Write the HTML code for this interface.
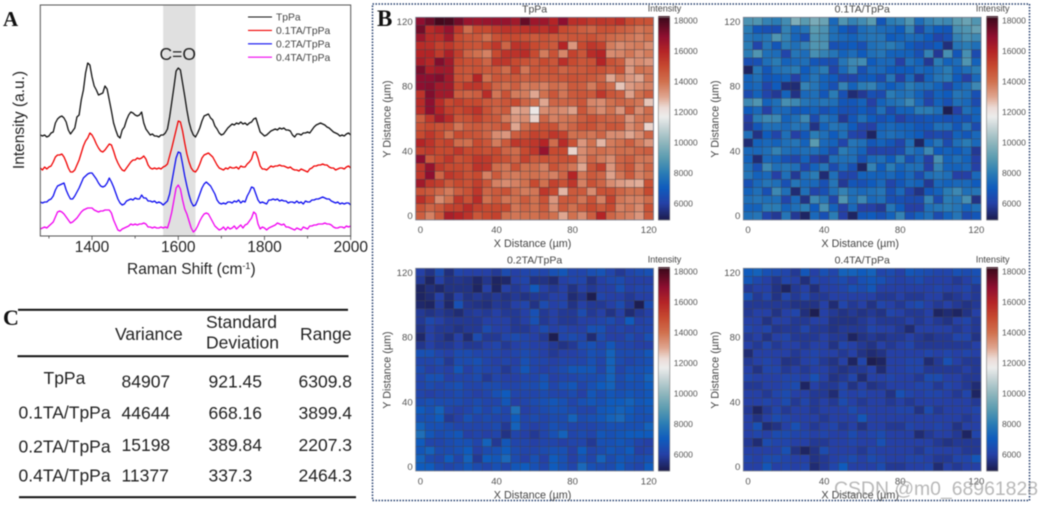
<!DOCTYPE html>
<html lang="en">
<head>
<meta charset="utf-8">
<title>Raman spectra and intensity maps</title>
<style>
html,body{margin:0;padding:0;background:#fff;}
body{width:1043px;height:506px;overflow:hidden;}
svg{display:block;filter:blur(0.5px);}
text{font-family:"Liberation Sans",sans-serif;}
</style>
</head>
<body>
<svg id="figure" xmlns="http://www.w3.org/2000/svg" width="1043" height="506" viewBox="0 0 1043 506">
  <rect x="0" y="0" width="1043" height="506" fill="#ffffff"/>

  <g id="spectra-panel"></g>
  <text x="3" y="26" style="font-family:'Liberation Serif',serif;font-weight:bold;font-size:21px" fill="#111">A</text>

  <rect x="372.5" y="4" width="657" height="496.5" fill="none" stroke="#1f3a6a" stroke-width="1.5" stroke-dasharray="1.5 1.5"/>
  <text x="377" y="26" style="font-family:'Liberation Serif',serif;font-weight:bold;font-size:23px" fill="#111">B</text>
  <g id="heatmaps"></g>

  <g font-size="17.5" fill="#222">
    <text x="3" y="325" style="font-family:'Liberation Serif',serif;font-weight:bold;font-size:22px" fill="#111">C</text>
    <rect x="18" y="308.8" width="330" height="2" fill="#111"/>
    <rect x="17.5" y="355.2" width="331" height="2" fill="#111"/>
    <rect x="19" y="496.2" width="337" height="2" fill="#111"/>
    <text x="115" y="340">Variance</text>
    <text x="206" y="328">Standard</text>
    <text x="206" y="348.5">Deviation</text>
    <text x="300" y="340">Range</text>
    <text x="43.5" y="384">TpPa</text>
    <text x="121.5" y="387.7">84907</text>
    <text x="208.5" y="387.7">921.45</text>
    <text x="298.5" y="387.7">6309.8</text>
    <text x="18.5" y="418.3">0.1TA/TpPa</text>
    <text x="121.5" y="419">44644</text>
    <text x="208.5" y="419">668.16</text>
    <text x="298.5" y="419">3899.4</text>
    <text x="18.5" y="452.7">0.2TA/TpPa</text>
    <text x="121.5" y="451">15198</text>
    <text x="208.5" y="451">389.84</text>
    <text x="298.5" y="451">2207.3</text>
    <text x="18.5" y="481.7">0.4TA/TpPa</text>
    <text x="121.5" y="481.7">11377</text>
    <text x="208.5" y="481.7">337.3</text>
    <text x="298.5" y="481.7">2464.3</text>
  </g>

  <text x="834" y="495" font-size="19.4" fill="#9a9a9a" fill-opacity="0.7">CSDN @m0_68961828</text>
</svg>

<script>
/* ---------- Panel A data: Raman spectra, a.u. above plot floor ---------- */
const ramanStart = 1280;
const ramanStep = 5;
const ramanTicksMajor = [1400, 1600, 1800, 2000];
const ramanTicksMinor = [1300, 1500, 1700, 1900];
const seriesNames = ['TpPa', '0.1TA/TpPa', '0.2TA/TpPa', '0.4TA/TpPa'];
const carbonylBand = [1565, 1640];

const spectrumTpPa = [
101,100,101,99,100,103,104,113,117,119,120,118,114,106,102,105,108,119,121,136,
146,163,173,171,159,150,146,141,142,143,150,147,136,125,113,106,100,98,106,109,
116,121,124,123,121,120,121,124,113,107,104,101,102,100,100,99,101,101,103,107,
119,134,149,165,168,166,153,140,126,114,106,101,99,103,108,115,120,121,122,118,
116,110,107,103,101,102,105,108,110,112,111,113,112,114,112,113,111,113,114,117,
118,111,104,102,100,101,103,105,106,107,106,108,107,108,106,106,105,101,99,102,
102,101,103,103,104,103,106,109,111,112,113,112,111,109,108,106,104,103,102,100,
101,100,102,103,101];
const spectrum01TA = [
68,66,69,67,69,70,74,79,81,81,82,79,74,68,64,64,66,71,76,83,
90,95,98,103,101,97,92,88,85,84,86,89,92,91,85,78,73,69,66,65,
68,71,74,76,76,78,77,78,80,77,71,68,67,68,67,68,67,69,70,72,
80,88,97,106,115,114,105,93,82,74,68,65,64,67,72,78,81,82,83,81,
79,75,71,68,67,66,68,67,69,68,68,69,67,70,69,69,72,74,77,84,
84,78,70,67,67,66,68,70,69,70,70,71,70,70,69,68,69,67,66,66,
65,67,66,65,64,67,68,70,70,71,71,72,71,71,69,68,68,66,67,68,
68,67,69,70,68];
const spectrum02TA = [
34,33,34,34,36,37,40,46,50,51,52,53,46,41,37,37,40,44,48,53,
58,60,62,63,63,60,57,53,50,49,50,53,58,54,49,43,37,33,31,32,
35,36,37,36,38,37,37,41,38,38,35,35,34,35,33,34,33,31,33,35,
42,54,66,78,84,83,72,60,50,41,34,30,31,36,42,48,52,54,52,50,
46,42,36,33,32,33,32,34,34,33,35,34,36,33,35,34,40,44,49,48,
42,36,33,34,33,32,36,36,37,36,37,35,36,35,35,33,34,34,33,35,
33,34,32,35,34,34,36,36,37,37,38,39,38,37,37,35,34,33,34,32,
33,32,33,33,31];
const spectrum04TA = [
7,8,9,8,10,12,14,19,24,25,24,22,19,16,13,14,16,18,21,24,
26,27,28,28,28,26,25,24,25,25,26,26,26,23,16,11,6,5,7,8,
9,10,12,11,12,11,12,12,13,12,9,9,8,9,8,8,9,8,9,8,
15,24,36,48,51,47,36,27,22,15,8,4,6,10,15,19,22,23,22,18,
14,10,8,6,7,9,6,9,7,8,10,7,9,11,8,11,12,15,18,24,
22,12,7,9,8,6,8,9,10,11,13,12,11,12,9,9,8,7,6,8,
7,6,9,8,7,10,10,11,11,12,12,12,13,12,12,11,9,8,8,9,
9,8,10,9,10];

/* ---------- Panel B data: intensity maps, hundreds of counts, top row = y 120 ---------- */
const mapTitles = ['TpPa', '0.1TA/TpPa', '0.2TA/TpPa', '0.4TA/TpPa'];
const mapAxisTicks = [0, 40, 80, 120];
const colorbarTicks = [6000, 8000, 10000, 12000, 14000, 16000, 18000];

const mapTpPa = [
[170,175,181,180,174,167,166,167,168,168,165,176,166,166,160,170,157,157,154,155,154,157,150,148,148],
[174,158,162,168,155,141,150,150,154,156,155,156,158,156,160,150,148,145,143,148,148,145,143,139,141],
[166,158,157,165,150,147,146,140,148,150,150,148,146,148,146,146,147,147,148,145,142,140,139,137,140],
[158,157,152,155,150,148,147,150,155,143,156,155,150,148,146,160,133,150,155,152,138,135,137,138,135],
[160,160,154,162,153,143,140,137,150,156,156,158,150,138,148,136,152,147,158,160,135,136,139,135,138],
[163,159,172,165,150,148,148,143,155,155,150,148,146,150,147,157,150,147,148,160,148,145,133,135,133],
[173,162,165,165,148,147,148,146,146,141,152,139,147,146,148,143,146,146,148,148,145,148,132,140,139],
[170,170,172,165,148,146,160,140,147,146,146,144,146,145,146,147,148,147,146,143,130,138,133,130,139],
[170,171,165,165,150,155,155,150,143,140,145,138,139,137,141,139,146,145,138,146,141,126,132,135,137],
[156,172,165,165,145,143,145,158,139,148,138,138,130,140,147,139,146,147,146,155,147,145,131,140,145],
[158,170,158,150,153,150,150,146,145,147,150,143,141,130,143,143,144,147,136,135,140,143,141,139,126],
[157,170,160,153,150,153,156,148,143,146,130,132,119,135,137,135,131,147,139,135,140,133,146,135,141],
[145,155,165,158,147,148,152,147,146,138,133,135,124,143,137,139,140,145,148,145,143,143,133,139,140],
[148,150,148,148,139,145,146,143,145,148,130,141,146,148,148,139,143,148,148,143,147,146,135,139,124],
[150,155,150,140,150,148,147,143,135,133,145,148,152,150,155,152,140,141,139,143,135,135,130,135,143],
[160,156,150,152,141,140,150,147,138,146,155,153,155,160,141,158,148,133,140,128,138,140,145,138,133],
[152,154,150,150,155,150,150,148,150,143,141,150,155,168,150,150,124,135,139,141,139,141,140,143,145],
[170,146,150,155,148,150,155,154,150,148,143,152,146,148,147,148,148,135,143,138,135,143,145,139,139],
[155,168,154,150,150,148,156,155,141,139,148,140,141,137,148,143,139,130,147,153,133,143,147,137,143],
[155,170,143,155,152,148,150,137,146,139,138,140,140,139,137,143,160,139,146,143,131,139,146,137,140],
[165,155,153,146,150,148,153,147,137,135,137,140,150,140,152,148,155,137,148,143,135,132,130,129,148],
[148,146,142,138,145,148,155,143,146,148,141,138,139,155,150,128,146,146,135,148,148,143,140,140,150],
[157,150,135,140,155,148,158,140,146,139,140,146,140,148,133,146,146,139,148,137,152,139,137,137,141],
[148,143,146,152,152,158,152,150,150,150,139,143,140,146,135,146,140,146,150,146,150,137,139,135,148],
[145,137,146,163,160,156,147,150,152,140,139,140,140,143,140,130,140,135,145,160,143,139,137,133,146]
];
const map01TA = [
[87,88,82,80,85,97,90,96,93,74,88,82,85,90,68,80,82,88,75,82,85,84,90,93,88],
[80,68,66,65,82,74,78,90,87,76,70,65,75,78,75,74,70,82,63,75,70,68,86,88,92],
[78,76,78,88,82,73,65,88,86,76,74,72,76,78,78,70,72,75,74,70,62,66,82,86,84],
[80,62,78,68,80,76,82,88,87,66,68,70,66,76,78,80,76,70,66,66,70,55,78,80,76],
[80,88,76,75,62,78,75,86,82,78,72,75,70,76,78,72,72,72,66,82,58,86,68,86,64],
[65,66,76,80,72,74,76,68,66,65,78,84,85,70,74,74,60,76,72,58,80,72,75,88,72],
[52,78,68,76,78,80,70,76,80,62,74,82,66,74,74,70,70,70,74,72,76,80,72,76,80],
[72,76,68,70,72,60,72,78,72,70,62,62,68,70,64,78,60,74,58,72,78,80,70,60,74],
[72,74,62,70,55,54,82,78,72,66,82,72,80,82,74,70,74,80,76,76,72,62,72,76,84],
[64,72,62,58,72,56,74,76,68,80,66,54,58,66,64,80,76,78,72,64,72,70,78,76,66],
[84,88,72,76,86,84,78,76,78,76,68,68,72,60,72,76,78,84,74,62,72,66,76,74,64],
[70,74,60,74,74,68,70,72,66,70,66,66,70,66,76,64,72,72,80,80,76,50,60,76,72],
[60,80,84,84,72,76,84,64,78,74,58,68,76,70,66,70,60,66,66,68,68,66,68,66,72],
[58,68,76,76,74,78,76,56,72,78,76,70,62,60,72,74,72,72,68,68,76,76,68,78,64],
[76,56,70,62,76,60,68,80,76,70,76,62,60,52,74,76,74,72,70,62,64,62,72,68,74],
[54,72,74,72,76,78,72,90,74,72,62,78,76,68,72,68,62,76,52,72,78,64,76,80,74],
[74,74,76,82,76,74,76,76,72,64,80,76,72,60,62,62,64,78,74,84,70,72,70,74,58],
[72,54,74,72,66,62,72,60,58,76,76,76,66,74,76,70,80,66,74,60,86,72,76,72,60],
[76,66,84,76,78,76,62,72,78,64,74,66,52,82,70,80,72,76,76,60,82,72,72,74,60],
[78,72,74,60,76,58,76,80,54,76,62,62,72,72,72,74,70,74,64,76,78,76,60,60,74],
[66,74,78,76,66,78,74,74,66,78,58,68,66,70,74,62,68,74,72,58,74,72,74,74,70],
[72,76,66,84,76,54,76,62,66,76,82,76,74,76,78,66,74,62,56,68,72,80,84,76,78],
[76,78,76,76,62,74,56,84,78,62,88,76,84,74,76,66,66,64,64,82,64,80,78,86,56],
[72,72,80,80,72,76,80,70,86,72,60,74,60,60,58,78,70,60,60,76,78,80,78,72,76],
[76,78,62,58,78,58,52,74,66,80,60,52,68,70,66,72,82,66,72,76,64,72,78,64,68]
];
const map02TA = [
[60,56,64,55,62,60,60,60,58,64,60,62,63,62,66,68,62,62,65,67,62,58,62,64,66],
[58,52,60,56,57,56,53,57,52,53,60,62,56,56,54,60,62,62,56,60,63,64,60,60,60],
[52,55,53,56,56,56,52,60,52,60,58,60,69,60,58,60,56,60,58,60,60,66,60,62,62],
[52,54,60,54,60,56,58,56,58,56,58,56,58,58,60,60,54,57,50,62,60,60,58,60,60],
[53,52,59,53,66,57,56,55,58,57,60,62,56,64,60,62,56,60,58,58,60,64,58,50,64],
[58,56,58,56,54,58,59,58,60,58,58,60,66,58,60,58,58,64,58,60,56,60,54,58,60],
[58,63,60,58,58,58,58,60,60,60,58,60,66,58,60,58,58,60,60,62,64,60,70,60,62],
[56,60,58,58,56,58,58,64,60,60,58,58,60,64,60,62,60,60,66,66,60,62,60,62,62],
[53,60,58,55,60,54,64,58,58,62,64,62,60,58,50,62,64,62,54,64,60,60,64,60,66],
[57,60,58,58,60,58,58,60,62,58,60,62,60,60,58,56,58,64,66,62,68,62,62,60,60],
[66,66,62,60,64,64,62,62,62,60,62,64,62,60,58,60,60,62,66,64,72,64,64,64,68],
[62,62,64,58,64,64,66,62,60,62,60,66,62,62,60,62,62,62,66,62,72,64,62,64,66],
[64,60,62,60,68,60,64,62,62,58,62,68,62,60,62,64,68,68,68,62,72,62,66,66,68],
[62,66,66,60,62,62,64,58,62,60,60,62,62,66,60,62,62,64,64,66,72,64,68,66,72],
[62,64,62,64,66,62,62,64,64,62,62,64,64,68,62,66,68,62,66,70,72,64,66,66,70],
[62,60,62,62,64,62,60,62,66,70,62,62,62,64,62,62,64,60,68,64,68,66,68,66,68],
[64,66,64,64,64,62,64,62,62,68,60,62,64,66,68,66,62,66,68,66,70,70,72,68,70],
[70,66,72,62,60,62,66,62,66,62,76,60,62,64,66,66,64,62,62,68,70,72,70,66,68],
[66,66,70,58,60,66,62,64,62,62,70,62,64,62,64,64,72,64,66,68,72,74,68,66,66],
[72,66,66,64,62,62,62,62,64,58,72,62,60,62,66,64,62,62,62,64,66,66,66,66,72],
[76,68,64,66,68,60,62,60,62,56,62,60,58,62,66,72,62,64,62,68,66,68,70,70,70],
[70,62,62,64,66,66,62,72,58,68,62,62,60,62,62,60,62,62,58,66,66,68,66,62,60],
[68,72,64,64,66,70,60,64,66,70,64,62,62,64,66,66,60,70,62,64,68,66,70,60,62],
[72,64,62,70,62,72,58,70,68,74,64,60,66,60,70,66,60,66,62,72,64,68,66,64,66],
[70,70,64,62,64,68,64,62,66,62,68,70,66,62,70,66,62,74,66,64,64,70,64,62,70]
];
const map04TA = [
[70,72,66,64,62,58,68,60,66,62,72,72,70,72,62,64,60,68,66,64,62,62,66,64,66],
[68,63,60,57,62,60,55,62,60,62,64,60,66,68,66,62,60,62,64,60,60,60,58,60,64],
[58,60,60,56,52,58,60,55,60,60,62,66,64,68,60,60,60,60,60,60,62,60,60,62,58],
[66,58,62,56,62,58,62,58,58,60,60,60,60,60,58,58,60,58,58,60,60,56,58,60,58],
[58,58,58,58,58,56,56,56,60,54,62,58,60,56,62,60,58,62,64,60,58,60,58,56,58],
[58,60,60,56,60,62,55,50,60,58,56,58,56,58,56,62,60,58,58,60,52,54,52,56,60],
[60,60,56,60,60,58,58,60,60,56,56,56,58,60,58,58,58,60,58,60,58,56,60,62,58],
[62,60,62,57,58,58,62,58,58,56,58,58,58,62,60,60,58,54,60,60,60,60,58,60,58],
[58,60,56,60,62,58,58,58,60,58,58,52,56,58,56,58,58,60,58,56,58,58,62,62,56],
[60,58,62,58,60,60,58,60,60,56,62,60,58,56,60,58,60,62,58,58,58,58,58,58,60],
[54,60,60,60,60,58,60,62,60,60,58,60,56,54,56,60,60,60,60,62,60,62,60,62,60],
[58,60,62,60,56,57,60,62,58,56,60,52,62,50,52,60,60,62,62,54,58,66,60,58,58],
[60,56,62,62,58,60,58,60,60,58,56,58,58,60,54,60,60,62,62,58,58,58,58,60,58],
[62,60,60,60,62,62,60,66,60,56,58,62,54,60,60,62,60,60,58,64,64,60,60,58,58],
[58,58,60,60,62,64,52,60,58,58,62,56,60,56,58,60,60,60,62,62,58,62,60,58,54],
[60,60,58,62,64,60,60,58,58,54,62,60,62,60,60,56,66,62,60,62,62,60,58,62,52],
[60,60,62,60,64,58,62,58,60,58,64,60,58,60,60,58,60,58,60,60,60,60,60,60,58],
[58,52,58,62,58,60,60,58,60,60,60,64,60,60,60,60,62,62,56,64,58,60,60,60,62],
[60,56,60,64,62,60,60,60,58,60,60,60,68,60,60,60,60,60,60,60,60,60,60,58,60],
[60,66,54,56,60,66,60,58,60,62,58,60,56,60,60,58,58,62,60,60,62,60,56,60,60],
[60,62,60,64,64,62,62,60,62,60,60,64,60,62,64,60,60,60,54,58,60,60,58,52,62],
[58,54,64,62,62,60,60,58,58,60,60,62,60,60,66,60,60,60,60,60,58,56,58,58,58],
[60,60,60,60,66,56,52,56,64,60,60,60,58,62,60,60,60,60,58,62,60,60,60,58,58],
[62,60,64,64,62,60,60,56,58,60,62,64,60,64,62,60,60,62,62,60,58,58,62,62,68],
[60,60,68,60,62,60,62,54,58,62,70,60,60,60,64,58,58,60,60,62,54,60,58,60,60]
];

const NS = 'http://www.w3.org/2000/svg';
function make(tag, attrs, parent, text) {
  const el = document.createElementNS(NS, tag);
  Object.keys(attrs).forEach(function (k) { el.setAttribute(k, attrs[k]); });
  if (text !== undefined) el.textContent = text;
  parent.appendChild(el);
  return el;
}
function slug(s) { return s.toLowerCase().replace(/[^a-z0-9]+/g, '-'); }

/* ---------- Panel A ---------- */
(function () {
  const root = document.getElementById('spectra-panel');
  const left = 40.3, right = 350.7, top = 5, bottom = 236;
  const xA = function (v) { return left + (v - 1280) / (2000 - 1280) * (right - left); };
  const yA = function (v) { return bottom - v; };
  const lineColors = ['#111111', '#f00000', '#0c0cf0', '#f000f0'];
  const allSeries = [spectrumTpPa, spectrum01TA, spectrum02TA, spectrum04TA];

  const band = make('rect', {x: xA(carbonylBand[0]), y: top, width: xA(carbonylBand[1]) - xA(carbonylBand[0]), height: bottom - top, fill: '#e0e0e0'}, root);
  
  

  allSeries.forEach(function (values, i) {
    const pts = values.map(function (v, k) { return xA(ramanStart + k * ramanStep).toFixed(2) + ',' + yA(v).toFixed(2); }).join(' ');
    const line = make('polyline', {points: pts, fill: 'none', stroke: lineColors[i], 'stroke-width': 1.3, 'stroke-linejoin': 'round'}, root);
    
    
  });

  const frame = make('rect', {x: left, y: top, width: right - left, height: bottom - top, fill: 'none', stroke: '#555', 'stroke-width': 1}, root);
  
  

  ramanTicksMinor.forEach(function (t) {
    const tick = make('line', {x1: xA(t), x2: xA(t), y1: bottom, y2: bottom + 2.5, stroke: '#444', 'stroke-width': 0.8}, root);
    
    
  });
  ramanTicksMajor.forEach(function (t) {
    const tick = make('line', {x1: xA(t), x2: xA(t), y1: bottom, y2: bottom + 4, stroke: '#444', 'stroke-width': 0.8}, root);
    
    
    const label = make('text', {x: xA(t) + (t === 2000 ? 0 : 0), y: 252, 'text-anchor': 'middle', 'font-size': 15.5, fill: '#222'}, root, String(t));
    
    
  });

  const xTitle = make('text', {x: 127, y: 274, 'font-size': 15.5, fill: '#222'}, root);
  
  
  make('tspan', {}, xTitle, 'Raman Shift (cm');
  make('tspan', {dy: -5, 'font-size': 9}, xTitle, '-1');
  make('tspan', {dy: 5}, xTitle, ')');

  const yTitle = make('text', {transform: 'translate(24 120) rotate(-90)', 'text-anchor': 'middle', 'font-size': 15.5, fill: '#222'}, root, 'Intensity (a.u.)');
  
  

  const bandLabel = make('text', {x: 159.5, y: 60, 'font-size': 17.5, fill: '#222'}, root, 'C=O');
  
  

  seriesNames.forEach(function (name, i) {
    const y = 17 + i * 13.4;
    const sw = make('line', {x1: 248, x2: 272, y1: y, y2: y, stroke: lineColors[i], 'stroke-width': 1.1}, root);
    
    
    const label = make('text', {x: 276, y: y + 3.7, 'font-size': 10.3, fill: '#444'}, root, name);
    
    
  });
})();

/* ---------- Panel B ---------- */
const colorStops = [
  [4900,'#1c1b4a'],[6000,'#2540a6'],[7000,'#0f5bbd'],[8000,'#2a7cb5'],[9000,'#5a9bb0'],
  [10000,'#8fb6bd'],[11000,'#c6d3d5'],[11700,'#ececec'],[12300,'#ecdcd6'],[13000,'#dfa690'],
  [14000,'#d0714f'],[15000,'#c74a30'],[16000,'#b42426'],[17000,'#8e0f30'],[18000,'#4b0a1f'],[18300,'#360818']
];
function hexToRgb(h) { return [1, 3, 5].map(function (i) { return parseInt(h.substr(i, 2), 16); }); }
function colorFor(value) {
  let k = 0;
  while (k < colorStops.length - 2 && value > colorStops[k + 1][0]) k++;
  const a = colorStops[k], b = colorStops[k + 1];
  const t = Math.max(0, Math.min(1, (value - a[0]) / (b[0] - a[0])));
  const ca = hexToRgb(a[1]), cb = hexToRgb(b[1]);
  return 'rgb(' + ca.map(function (c, i) { return Math.round(c + (cb[i] - c) * t); }).join(',') + ')';
}

(function () {
  const root = document.getElementById('heatmaps');
  const layouts = [
    {left: 415.7, top: 17.3, cbLeft: 658.3, titleY: 12.7, xTickY: 233, xTitleY: 247},
    {left: 743.3, top: 17.3, cbLeft: 986.5, titleY: 12.7, xTickY: 233, xTitleY: 247},
    {left: 415.7, top: 268.3, cbLeft: 658.3, titleY: 263.5, xTickY: 484.5, xTitleY: 498.5},
    {left: 743.3, top: 268.3, cbLeft: 986.5, titleY: 263.5, xTickY: 484.5, xTitleY: 498.5}
  ];
  const grids = [mapTpPa, map01TA, map02TA, map04TA];
  const plotW = 237.8, plotH = 202.6, cbW = 11.5;

  grids.forEach(function (grid, p) {
    const L = layouts[p];
    const base = slug(mapTitles[p]);
    const g = make('g', {}, root);
    
    

    const xMap = function (d) { return L.left + (d + 2.5) / 125 * plotW; };
    const yMap = function (d) { return L.top + (122.5 - d) / 125 * plotH; };

    grid.forEach(function (row, r) {
      row.forEach(function (v, c) {
        const cx = c * 5, cy = 120 - r * 5;
        const cell = make('rect', {
          x: xMap(cx - 2.5).toFixed(2), y: yMap(cy + 2.5).toFixed(2),
          width: (xMap(cx + 2.5) - xMap(cx - 2.5)).toFixed(2),
          height: (yMap(cy - 2.5) - yMap(cy + 2.5)).toFixed(2),
          fill: colorFor(v * 100), stroke: '#3c3c44', 'stroke-opacity': 0.55, 'stroke-width': 0.6
        }, g);
        
        
      });
    });

    const frame = make('rect', {x: L.left, y: L.top, width: plotW, height: plotH, fill: 'none', stroke: '#7a8090', 'stroke-width': 0.8}, g);
    
    

    const title = make('text', {x: L.left + plotW / 2, y: L.titleY, 'text-anchor': 'middle', 'font-size': 10.5, fill: '#444'}, g, mapTitles[p]);
    
    

    mapAxisTicks.forEach(function (t) {
      const xl = make('text', {x: xMap(t), y: L.xTickY, 'text-anchor': 'middle', 'font-size': 9.6, fill: '#555'}, g, String(t));
      
      
      const yl = make('text', {x: L.left - 3, y: yMap(t) + 3.4, 'text-anchor': 'end', 'font-size': 9.6, fill: '#555'}, g, String(t));
      
      
    });

    const xt = make('text', {x: L.left + plotW / 2 - 2, y: L.xTitleY, 'text-anchor': 'middle', 'font-size': 10.8, fill: '#444'}, g, 'X Distance (µm)');
    
    
    const yt = make('text', {transform: 'translate(' + (L.left - 25) + ' ' + (L.top + plotH / 2 + 0.5) + ') rotate(-90)', 'text-anchor': 'middle', 'font-size': 10.8, fill: '#444'}, g, 'Y Distance (µm)');
    
    

    /* colour bar */
    const yBar = function (v) { return L.top + (18220 - v) / (18220 - 4900) * plotH; };
    for (let v = 4900; v < 18220; v += 100) {
      const seg = make('rect', {x: L.cbLeft, y: yBar(v + 100).toFixed(2), width: cbW, height: (yBar(v) - yBar(v + 100) + 0.4).toFixed(2), fill: colorFor(v + 50)}, g);
      
      
    }
    const cbFrame = make('rect', {x: L.cbLeft, y: L.top, width: cbW, height: plotH, fill: 'none', stroke: '#8a8a8a', 'stroke-width': 0.7}, g);
    
    
    colorbarTicks.forEach(function (t) {
      const lab = make('text', {x: L.cbLeft + cbW + 4, y: yBar(t) + 3.1, 'font-size': 8.6, fill: '#555'}, g, String(t));
      
      
    });
    const cbTitle = make('text', {x: L.cbLeft + 6.2, y: L.titleY - 1.2, 'text-anchor': 'middle', 'font-size': 9, fill: '#444'}, g, 'Intensity');
    
    
  });
})();
</script>
</body>
</html>
